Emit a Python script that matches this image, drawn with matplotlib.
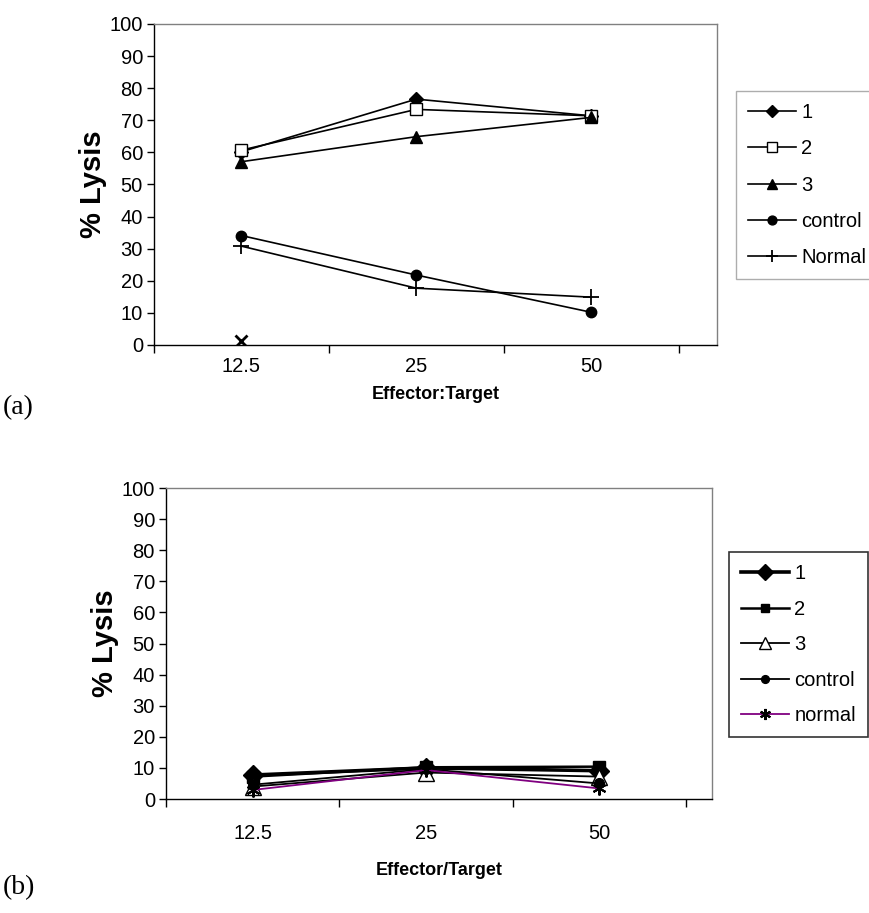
import numpy as np
import matplotlib.pyplot as plt

# x categories (Effector:Target ratio)
ratios = ['12.5', '25', '50']

# panel (a) values, % lysis
a_s1 = [60.2, 76.6, 71.4]
a_s2 = [60.7, 73.4, 71.4]
a_s3 = [57.1, 64.9, 70.9]
a_control = [34.1, 21.8, 10.2]
a_normal = [30.8, 17.7, 14.9]
a_extra = [1.3]  # stray point at 12.5, not in legend

# panel (b) values, % lysis
b_s1 = [7.7, 10.0, 9.1]
b_s2 = [7.2, 10.2, 10.4]
b_s3 = [4.0, 8.5, 7.2]
b_control = [4.6, 9.6, 5.0]
b_normal = [2.9, 9.3, 3.4]

plt.rcParams['font.family'] = ['Liberation Sans', 'DejaVu Sans']

fig = plt.figure(figsize=(8.69, 9.13), dpi=100)
W, H = 869.0, 913.0


def px_axes(left, top, right, bottom):
    return fig.add_axes([left / W, 1 - bottom / H, (right - left) / W, (bottom - top) / H])


def style_axes(ax, xmax, xlabel, tick_pad=9, label_pad=7):
    ax.set_ylim(0, 100)
    ax.set_xlim(-0.5, xmax)
    ax.set_yticks(np.arange(0, 101, 10))
    ax.set_xticks(range(len(ratios)))
    ax.set_xticklabels(ratios)
    ax.set_xticks([-0.5, 0.5, 1.5, 2.5], minor=True)
    ax.tick_params(axis='x', which='major', length=0, pad=tick_pad, labelsize=14.5)
    ax.tick_params(axis='x', which='minor', length=6, direction='out', width=1)
    ax.tick_params(axis='y', length=5, direction='out', width=1, labelsize=14.5, pad=3)
    for s in ['left', 'bottom']:
        ax.spines[s].set_color('black')
        ax.spines[s].set_linewidth(1.0)
    for s in ['top', 'right']:
        ax.spines[s].set_color('#808080')
        ax.spines[s].set_linewidth(1.0)
    ax.set_ylabel('% Lysis', fontsize=21, fontweight='bold', labelpad=2)
    ax.set_xlabel(xlabel, fontsize=13, fontweight='bold', labelpad=label_pad)


x = np.arange(len(ratios))

# ---- panel (a)
ax1 = px_axes(154, 24, 717, 345)
ax1.plot(x, a_s1, '-D', color='black', lw=1.2, ms=7, label='1')
ax1.plot(x, a_s2, '-s', color='black', lw=1.2, ms=8, mfc='white', label='2')
ax1.plot(x, a_s3, '-^', color='black', lw=1.2, ms=9, label='3')
ax1.plot(x, a_control, '-o', color='black', lw=1.2, ms=7.5, label='control')
ax1.plot(x, a_normal, '-+', color='black', lw=1.2, ms=11, mew=1.3, label='Normal')
ax1.plot(x[:1], a_extra, 'x', color='black', ms=8, mew=2, label='_nolegend_')
style_axes(ax1, (717 - 241) / 175.0, 'Effector:Target')

leg1 = ax1.legend(loc='upper left', bbox_to_anchor=(736 / W, 1 - 91 / H),
                  bbox_transform=fig.transFigure, borderaxespad=0, fontsize=14.5,
                  frameon=True, fancybox=False, handlelength=2.4, handletextpad=0.25,
                  labelspacing=0.86, borderpad=0.6, markerscale=0.85)
leg1.get_frame().set_edgecolor('#999999')
leg1.get_frame().set_linewidth(1.0)

# ---- panel (b)
ax2 = px_axes(166, 488, 712, 799)
ax2.plot(x, b_s1, '-D', color='black', lw=2.6, ms=10, label='1')
ax2.plot(x, b_s2, '-s', color='black', lw=1.8, ms=8, label='2')
ax2.plot(x, b_s3, '-^', color='black', lw=1.3, ms=11, mfc='white', label='3')
ax2.plot(x, b_control, '-o', color='black', lw=1.3, ms=7, label='control')
ax2.plot(x, b_normal, '-', color='#800080', lw=1.3, marker=(6, 2, 0), ms=10,
         mec='black', mew=1.5, label='normal')
style_axes(ax2, (712 - 252) / 173.5, 'Effector/Target', tick_pad=18, label_pad=14)

leg2 = ax2.legend(loc='upper left', bbox_to_anchor=(729 / W, 1 - 552 / H),
                  bbox_transform=fig.transFigure, borderaxespad=0, fontsize=14.5,
                  frameon=True, fancybox=False, handlelength=2.4, handletextpad=0.25,
                  labelspacing=0.82, borderpad=0.6, markerscale=0.8)
leg2.get_frame().set_edgecolor('black')
leg2.get_frame().set_linewidth(1.2)

fig.text(3 / W, 1 - 408 / H, '(a)', fontsize=20, family='Liberation Serif', va='center')
fig.text(3 / W, 1 - 888 / H, '(b)', fontsize=20, family='Liberation Serif', va='center')

fig.savefig('out.png', dpi=100)
